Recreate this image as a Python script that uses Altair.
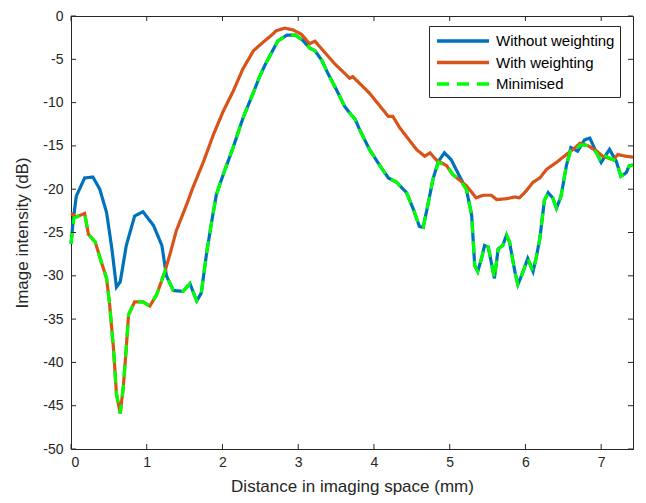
import altair as alt
import pandas as pd

# ---- data ----
series_names = ["Without weighting", "With weighting", "Minimised"]
series_colors = ["#0072BD", "#D95319", "#00FF00"]

blue_x = [0, 0.03, 0.07, 0.18, 0.29, 0.38, 0.47, 0.54, 0.60, 0.65, 0.73, 0.84, 0.95, 1.09, 1.20,
          1.26, 1.35, 1.48, 1.57, 1.66, 1.72, 1.79, 1.86, 1.92, 2.01, 2.14, 2.27, 2.41, 2.49, 2.57,
          2.65, 2.73, 2.85, 2.96, 3.06, 3.15, 3.22, 3.31, 3.39, 3.51, 3.61, 3.68, 3.75, 3.81, 3.94,
          4.08, 4.19, 4.30, 4.43, 4.52, 4.60, 4.65, 4.71, 4.78, 4.85, 4.93, 5.02, 5.13, 5.22, 5.29,
          5.33, 5.37, 5.42, 5.46, 5.51, 5.59, 5.64, 5.70, 5.75, 5.79, 5.86, 5.90, 5.97, 6.03, 6.10,
          6.14, 6.19, 6.25, 6.30, 6.36, 6.41, 6.47, 6.54, 6.60, 6.69, 6.78, 6.85, 6.94, 7.00, 7.11,
          7.20, 7.26, 7.33, 7.37, 7.42]
blue_y = [-26.3, -23.5, -20.8, -18.7, -18.6, -20.0, -22.7, -26.9, -31.3, -30.7, -26.5, -23.1, -22.6, -24.2, -26.5,
          -30.0, -31.7, -31.8, -30.9, -32.9, -32.0, -27.4, -23.6, -20.6, -18.3, -15.2, -11.8, -8.8, -7.0, -5.5,
          -4.2, -2.9, -2.2, -2.2, -2.8, -3.7, -4.0, -5.1, -6.6, -8.6, -10.4, -11.2, -11.9, -13.1, -15.4,
          -17.3, -18.7, -19.2, -20.4, -22.3, -24.3, -24.4, -21.9, -18.8, -16.8, -15.8, -16.6, -18.5, -20.0, -23.0,
          -28.8, -29.5, -28.0, -26.5, -26.7, -30.3, -26.9, -26.5, -25.3, -26.1, -29.5, -31.0, -29.5, -28.0, -29.5,
          -28.0, -25.7, -21.3, -20.4, -21.0, -22.2, -20.8, -17.3, -15.2, -15.6, -14.3, -14.1, -15.8, -16.9, -15.4,
          -16.8, -18.5, -18.1, -17.3, -17.2]

orange_x = [0, 0.07, 0.18, 0.23, 0.32, 0.40, 0.47, 0.51, 0.56, 0.60, 0.65, 0.69, 0.73, 0.76, 0.84,
            0.95, 1.04, 1.13, 1.24, 1.31, 1.39, 1.53, 1.61, 1.75, 1.88, 2.01, 2.14, 2.27, 2.41, 2.54,
            2.65, 2.71, 2.82, 2.93, 3.04, 3.15, 3.22, 3.35, 3.48, 3.61, 3.68, 3.72, 3.94, 4.19, 4.25,
            4.34, 4.56, 4.67, 4.74, 4.82, 4.96, 5.04, 5.22, 5.35, 5.44, 5.55, 5.62, 5.75, 5.86, 5.92,
            6.01, 6.10, 6.19, 6.28, 6.41, 6.54, 6.63, 6.72, 6.83, 6.94, 7.02, 7.16, 7.22, 7.33, 7.42]
orange_y = [-22.8, -23.2, -22.8, -25.2, -26.1, -28.4, -30.3, -33.3, -38.3, -43.6, -45.9, -42.9, -38.3, -34.5, -33.0,
            -33.0, -33.5, -32.2, -29.5, -27.4, -24.8, -21.7, -19.8, -16.8, -13.7, -11.0, -8.7, -6.1, -4.0, -3.0,
            -2.2, -1.7, -1.4, -1.6, -2.1, -3.2, -2.9, -4.2, -5.5, -6.6, -7.2, -7.0, -8.9, -11.6, -11.6,
            -12.9, -15.4, -16.2, -15.8, -16.6, -17.3, -18.3, -19.6, -21.0, -20.7, -20.7, -21.2, -21.1, -20.9, -21.0,
            -20.2, -19.2, -18.7, -17.7, -16.9, -16.0, -15.4, -14.7, -15.0, -15.6, -16.2, -16.6, -16.0, -16.2, -16.3]

green_x = [0, 0.04, 0.07, 0.18, 0.23, 0.32, 0.40, 0.47, 0.51, 0.56, 0.60, 0.65, 0.69, 0.73, 0.76,
           0.84, 0.95, 1.04, 1.13, 1.24, 1.26, 1.35, 1.48, 1.57, 1.66, 1.72, 1.79, 1.86, 1.92, 2.01,
           2.14, 2.27, 2.41, 2.49, 2.57, 2.65, 2.73, 2.85, 2.96, 3.06, 3.15, 3.22, 3.31, 3.39, 3.51,
           3.61, 3.68, 3.75, 3.81, 3.94, 4.08, 4.19, 4.30, 4.43, 4.52, 4.60, 4.65, 4.71, 4.78, 4.85,
           4.96, 5.04, 5.13, 5.22, 5.29, 5.33, 5.37, 5.42, 5.46, 5.51, 5.59, 5.64, 5.70, 5.75, 5.79,
           5.86, 5.90, 5.97, 6.03, 6.10, 6.14, 6.19, 6.25, 6.30, 6.36, 6.41, 6.47, 6.54, 6.60, 6.66,
           6.72, 6.80, 6.87, 6.94, 7.00, 7.06, 7.11, 7.16, 7.20, 7.26, 7.33, 7.37, 7.42]
green_y = [-26.3, -23.3, -23.2, -22.8, -25.2, -26.1, -28.4, -30.3, -33.3, -38.3, -43.6, -45.9, -42.9, -38.3, -34.5,
           -33.0, -33.0, -33.5, -32.2, -29.5, -30.0, -31.7, -31.8, -30.9, -32.9, -32.0, -27.4, -23.6, -20.6, -18.3,
           -15.2, -11.8, -8.8, -7.0, -5.5, -4.2, -2.9, -2.2, -2.2, -2.8, -3.7, -4.0, -5.1, -6.6, -8.6,
           -10.4, -11.2, -11.9, -13.1, -15.4, -17.3, -18.7, -19.2, -20.4, -22.3, -24.3, -24.4, -21.9, -18.8, -16.9,
           -17.3, -18.3, -18.9, -20.0, -23.0, -28.8, -29.5, -28.0, -26.5, -26.7, -30.3, -26.9, -26.5, -25.3, -26.1,
           -29.5, -31.0, -29.5, -28.0, -29.5, -28.0, -25.7, -21.3, -20.4, -21.0, -22.2, -20.8, -17.3, -15.4, -15.5,
           -14.9, -14.9, -15.2, -15.8, -16.9, -16.2, -16.4, -16.6, -16.8, -18.5, -18.1, -17.3, -17.2]

x_ticks = [0, 1, 2, 3, 4, 5, 6, 7]
y_ticks = [0, -5, -10, -15, -20, -25, -30, -35, -40, -45, -50]
x_domain = [0, 7.42]
y_domain = [-50, 0]

# ---- styling ----
PAD_L, PAD_T, PAD_R, PAD_B = 63, 8, 5, 46
W, H = 646 - 16 - PAD_L - PAD_R, 503 - 16 - PAD_T - PAD_B
FONT = "Liberation Sans"
TXT = "#262626"

xscale = alt.Scale(domain=x_domain, nice=False, zero=False)
yscale = alt.Scale(domain=y_domain, nice=False, zero=False)

xaxis = alt.Axis(values=x_ticks, title="Distance in imaging space (mm)", ticks=False, grid=False,
                 domainColor=TXT, labelFont=FONT, labelFontSize=14, labelColor=TXT, labelPadding=6,
                 labelExpr="datum.value + ''",
                 titleFont=FONT, titleFontSize=17, titleFontWeight="normal", titleColor=TXT,
                 titleBaseline="alphabetic", titleY=42)
yaxis = alt.Axis(values=y_ticks, title="Image intensity (dB)", ticks=False, grid=False,
                 domainColor=TXT, labelFont=FONT, labelFontSize=14, labelColor=TXT, labelPadding=8,
                 labelExpr="datum.value + ''",
                 titleFont=FONT, titleFontSize=17, titleFontWeight="normal", titleColor=TXT,
                 titleBaseline="middle", titleX=-49)

legend = alt.Legend(title=None, orient="none", legendX=358, legendY=26 - (8 + PAD_T),
                    symbolType="M-0.875,0H5.625", symbolSize=256, symbolStrokeWidth=3.5,
                    labelFont=FONT, labelFontSize=15, labelColor="black",
                    strokeColor="#262626", fillColor="white", padding=5,
                    rowPadding=3.5, labelOffset=42, labelLimit=300, cornerRadius=0)

color = alt.Color("series:N", scale=alt.Scale(domain=series_names, range=series_colors), legend=legend)
dash = alt.StrokeDash("series:N", scale=alt.Scale(domain=series_names, range=[[1, 0], [1, 0], [12, 8]]),
                      legend=legend)


def line(xs, ys, name):
    df = pd.DataFrame({"x": xs, "y": ys, "series": name})
    return alt.Chart(df).mark_line(strokeWidth=3.2).encode(
        x=alt.X("x:Q", scale=xscale, axis=xaxis),
        y=alt.Y("y:Q", scale=yscale, axis=yaxis),
        color=color,
        strokeDash=dash,
    )


xt = pd.DataFrame({"x": x_ticks})
yt = pd.DataFrame({"y": y_ticks})
tick_bottom = alt.Chart(xt).mark_rule(color=TXT).encode(
    x=alt.X("x:Q", scale=xscale, axis=xaxis), y=alt.value(H), y2=alt.value(H - 5))
tick_top = alt.Chart(xt).mark_rule(color=TXT).encode(
    x=alt.X("x:Q", scale=xscale, axis=xaxis), y=alt.value(0), y2=alt.value(5))
tick_left = alt.Chart(yt).mark_rule(color=TXT).encode(
    y=alt.Y("y:Q", scale=yscale, axis=yaxis), x=alt.value(0), x2=alt.value(5))
tick_right = alt.Chart(yt).mark_rule(color=TXT).encode(
    y=alt.Y("y:Q", scale=yscale, axis=yaxis), x=alt.value(W), x2=alt.value(W - 5))

chart = alt.layer(
    line(blue_x, blue_y, series_names[0]),
    line(orange_x, orange_y, series_names[1]),
    line(green_x, green_y, series_names[2]),
    tick_bottom, tick_top, tick_left, tick_right,
).properties(
    width=W, height=H,
    autosize=alt.AutoSizeParams(type="none"),
    padding={"left": PAD_L, "top": PAD_T, "right": PAD_R, "bottom": PAD_B},
    background="white",
).configure_view(stroke=TXT, strokeWidth=1)

chart.save("out.html", embed_options={"renderer": "svg", "actions": False})
